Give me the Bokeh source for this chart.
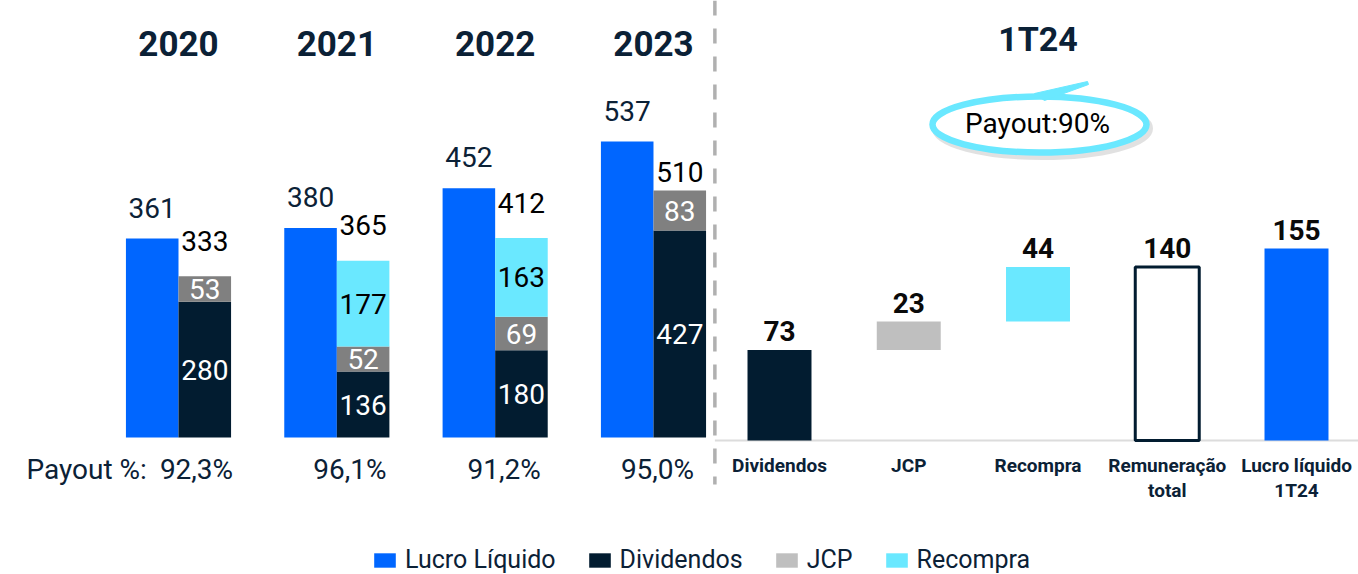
import numpy as np
from bokeh.plotting import figure
from bokeh.models import Range1d, ColumnDataSource, Legend, LegendItem
from bokeh.core.properties import value
from bokeh.embed import file_html
from bokeh.resources import INLINE

# ---------------- data ----------------
years = ["2020", "2021", "2022", "2023"]
lucro = [361, 380, 452, 537]
dividendos = [280, 136, 180, 427]
jcp = [53, 52, 69, 83]
recompra = [0, 177, 163, 0]
payout = ["92,3%", "96,1%", "91,2%", "95,0%"]
payout_label = "Payout %:"

q_title = "1T24"
q_categories = ["Dividendos", "JCP", "Recompra", "Remuneração\ntotal", "Lucro líquido\n1T24"]
q_steps = [73, 23, 44]
q_total = 140
q_lucro = 155
q_payout = "Payout:90%"

legend_labels = ["Lucro Líquido", "Dividendos", "JCP", "Recompra"]

# ---------------- style ----------------
BLUE = "#0066FF"
NAVY = "#021C30"
GRAY_D = "#808080"
GRAY_L = "#BFBFBF"
CYAN = "#6AE8FF"
TXT = "#0B2136"
FONT = value("Roboto")
AB = 0.39  # alphabetic-baseline correction (fraction of font size)
total_label_lift = [24, 25, 24, 7]
payout_shift = [18, 13, 9, 4]

W, H = 1358, 574


def sy(y, size=0):  # page y (px from top) of a text baseline -> annotation range
    return H - y + AB * size


def sx(x):
    return x


# ranges (the source chart draws profit and payouts on separate value scales)
left_x = Range1d(-178 / 158.33, -178 / 158.33 + W / 158.33)
left_y = Range1d(-137 / 0.5512, -137 / 0.5512 + H / 0.5512)

p = figure(width=W, height=H, x_range=left_x, y_range=left_y,
           output_backend="svg", toolbar_location=None,
           x_axis_location=None, y_axis_location=None,
           min_border=0, outline_line_color=None,
           background_fill_color="white", border_fill_color="white")
p.grid.visible = False
p.extra_x_ranges = {"right": Range1d(-779 / 129.25, -779 / 129.25 + W / 129.25),
                    "px": Range1d(0, W)}
p.extra_y_ranges = {"right": Range1d(-134 / 1.2387, -134 / 1.2387 + H / 1.2387),
                    "stack": Range1d(-137 / 0.4845, -137 / 0.4845 + H / 0.4845),
                    "py": Range1d(0, H)}

# ---------------- left panel ----------------
xi = np.arange(len(years))
div = np.array(dividendos)
jt = div + np.array(jcp)
rt = jt + np.array(recompra)
bw = 0.332
src = ColumnDataSource(dict(
    xb=xi - bw / 2, xr=xi + bw / 2, lucro=lucro, div=div, jt=jt, rt=rt,
    lucro_s=[str(v) for v in lucro], tot_s=[str(v) for v in rt],
    tot_off=[-(v + AB * 28) for v in total_label_lift], xp=xi, payout=payout,
    pshift=payout_shift, year=years,
))

r_lucro = p.vbar(x="xb", width=bw, bottom=0, top="lucro", source=src,
                 fill_color=BLUE, line_color=None)
r_div = p.vbar(x="xr", width=bw, bottom=0, top="div", source=src,
               y_range_name="stack", fill_color=NAVY, line_color=None)
r_jcp = p.vbar(x="xr", width=bw, bottom="div", top="jt", source=src,
               y_range_name="stack", fill_color=GRAY_D, line_color=None)
r_rec = p.vbar(x="xr", width=bw, bottom="jt", top="rt", source=src,
               y_range_name="stack", fill_color=CYAN, line_color=None)

p.text(x="xb", y="lucro", text="lucro_s", source=src, text_align="center",
       text_baseline="alphabetic", y_offset=-(20 + AB * 28), text_font=FONT,
       text_font_size="28px", text_color=TXT)
p.text(x="xr", y="rt", text="tot_s", source=src, y_range_name="stack",
       text_align="center", text_baseline="alphabetic", y_offset="tot_off",
       text_font=FONT, text_font_size="28px", text_color="#000000")

# segment labels
seg_x, seg_y, seg_t, seg_c = [], [], [], []
for i in range(len(years)):
    for bottom, v, col in ((0, dividendos[i], "white"), (div[i], jcp[i], "white"),
                           (jt[i], recompra[i], "#000000")):
        if v > 0:
            seg_x.append(xi[i] + bw / 2)
            seg_y.append(bottom + v / 2)
            seg_t.append(str(v))
            seg_c.append(col)
p.text(x=seg_x, y=seg_y, text=seg_t, text_color=seg_c, y_range_name="stack",
       text_align="center", text_baseline="middle", text_font=FONT,
       text_font_size="28px")

# year titles
p.text(x="xp", y=sy(57, 35), y_range_name="py", text="year", source=src,
       text_align="center", text_baseline="alphabetic", text_font=FONT,
       text_font_size="35px", text_font_style="bold", text_color=TXT)
# payout row
p.text(x="xp", y=sy(480, 28), y_range_name="py", text="payout", source=src,
       x_offset="pshift", text_align="center", text_baseline="alphabetic",
       text_font=FONT, text_font_size="28px", text_color=TXT)
p.text(x=[sx(26)], y=[sy(480, 28)], x_range_name="px", y_range_name="py",
       text=[payout_label], text_align="left", text_baseline="alphabetic",
       text_font=FONT, text_font_size="28px", text_color=TXT)

# divider
p.segment(x0=[-0.5], y0=[H], x1=[-0.5], y1=[sy(484)], x_range_name="right",
          y_range_name="py", line_color="#B0B0B0", line_width=3.5, line_dash="15 13")

# ---------------- right panel ----------------
qi = np.arange(len(q_categories))
q_bottom = list(np.concatenate([[0], np.cumsum(q_steps)[:-1]])) + [0, 0]
q_top = list(np.cumsum(q_steps)) + [q_total, q_lucro]
q_vals = q_steps + [q_total, q_lucro]
qsrc = ColumnDataSource(dict(
    x=qi, bottom=q_bottom, top=q_top, val=[str(v) for v in q_vals],
    fill=[NAVY, GRAY_L, CYAN, "white", BLUE],
    lalpha=[0, 0, 0, 1, 0],
    l1=[c.split("\n")[0] for c in q_categories],
    l2=[c.split("\n")[1] if "\n" in c else "" for c in q_categories],
))

p.segment(x0=[-0.5], y0=[0], x1=[qi[-1] + 1], y1=[0], x_range_name="right",
          y_range_name="right", line_color="#DCDCDC", line_width=2)
r_q = p.vbar(x="x", width=0.495, bottom="bottom", top="top", source=qsrc,
             x_range_name="right", y_range_name="right", fill_color="fill",
             line_color=NAVY, line_width=3, line_alpha="lalpha")
p.text(x="x", y="top", text="val", source=qsrc, x_range_name="right",
       y_range_name="right", text_align="center", text_baseline="alphabetic",
       y_offset=-(8 + AB * 28), text_font=FONT, text_font_size="28px",
       text_font_style="bold", text_color="#0A0A0A")
p.text(x="x", y=sy(472, 19), text="l1", source=qsrc, x_range_name="right",
       y_range_name="py", text_align="center", text_baseline="alphabetic",
       text_font=FONT, text_font_size="19px", text_font_style="bold",
       text_color=TXT)
p.text(x="x", y=sy(497, 19), text="l2", source=qsrc, x_range_name="right",
       y_range_name="py", text_align="center", text_baseline="alphabetic",
       text_font=FONT, text_font_size="19px", text_font_style="bold",
       text_color=TXT)

# title 1T24
p.text(x=[2], y=[sy(52, 34)], text=[q_title], x_range_name="right", y_range_name="py",
       text_align="center", text_baseline="alphabetic", text_font=FONT,
       text_font_size="34px", text_font_style="bold", text_color=TXT)

# payout ellipse callout
p.ellipse(x=[sx(1042)], y=[sy(128)], width=[214], height=[56],
          x_range_name="px", y_range_name="py", fill_color=None,
          line_color="#888888", line_alpha=0.25, line_width=7)
p.ellipse(x=[sx(1039)], y=[sy(124)], width=[214], height=[56],
          x_range_name="px", y_range_name="py", fill_color="white",
          line_color=CYAN, line_width=6.5)
p.patch(x=[sx(1034), sx(1087), sx(1088), sx(1044)],
        y=[sy(93), sy(81), sy(84), sy(100)],
        x_range_name="px", y_range_name="py", fill_color=CYAN, line_color=CYAN,
        line_width=1)
p.text(x=[sx(1037)], y=[sy(134, 28)], text=[q_payout], x_range_name="px",
       y_range_name="py", text_align="center", text_baseline="alphabetic",
       text_font=FONT, text_font_size="28px", text_color="#000000")

# ---------------- legend ----------------
legend = Legend(items=[
    LegendItem(label=legend_labels[0], renderers=[r_lucro]),
    LegendItem(label=legend_labels[1], renderers=[r_div]),
    LegendItem(label=legend_labels[2], renderers=[r_q], index=1),
    LegendItem(label=legend_labels[3], renderers=[r_rec]),
], orientation="horizontal", location=(371, 0), padding=0, margin=0,
    spacing=30, label_standoff=7, glyph_width=27, glyph_height=18,
    label_height=18, label_text_font="Roboto", label_text_font_size="25px",
    label_text_color=TXT, border_line_color=None, background_fill_alpha=0)
p.add_layout(legend, "center")

open("out.html", "w").write(file_html(p, INLINE))
